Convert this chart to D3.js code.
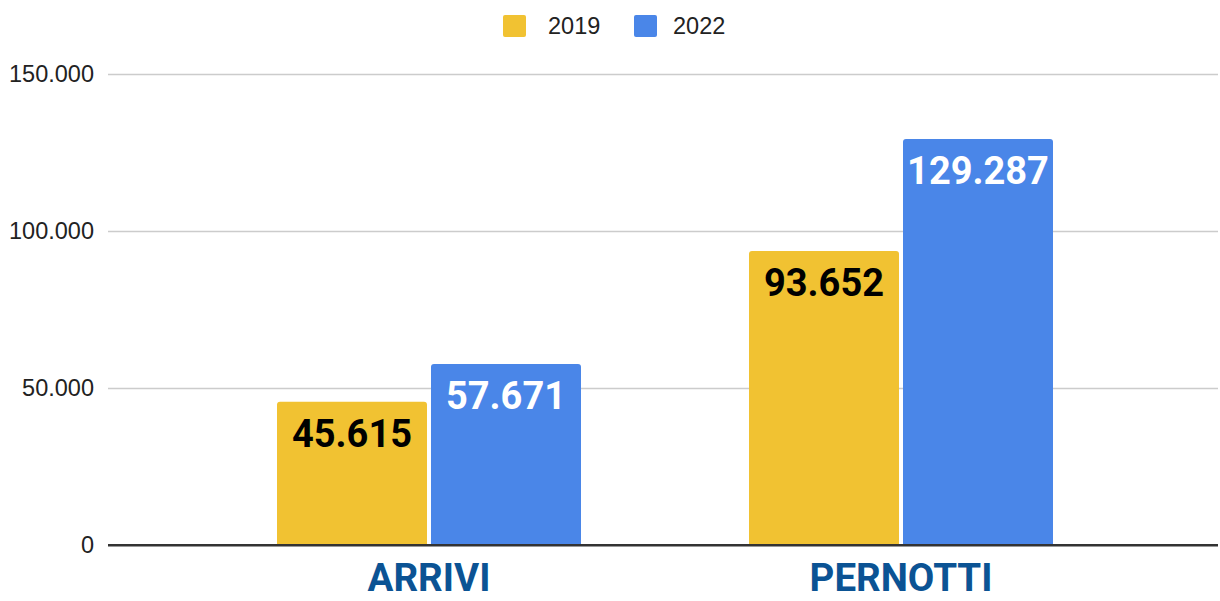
<!DOCTYPE html>
<html lang="it">
<head>
    <meta charset="UTF-8">
    <title>Arrivi e pernotti 2019 / 2022</title>
    <script src="https://d3js.org/d3.v7.min.js"></script>
    <style>
        body { margin: 0; background: #fff; }
        .tick-label { font-family: "Liberation Sans", Arial, sans-serif; font-size: 23.5px; fill: #222; }
        .legend-label { font-family: "Liberation Sans", Arial, sans-serif; font-size: 23.5px; fill: #222; }
        .value-label { font-family: Roboto, sans-serif; font-weight: 700; font-size: 38px; }
        .cat-label { font-family: Roboto, sans-serif; font-weight: 700; font-size: 38.5px; fill: #0b5394; }
    </style>
</head>
<body>
    <svg id="chart" width="1220" height="601"></svg>

    <script>
        const categories = ["ARRIVI", "PERNOTTI"];
        const series = ["2019", "2022"];
        const values2019 = [45615, 93652];
        const values2022 = [57671, 129287];
        const yTicks = [0, 50000, 100000, 150000];
        const colors = ["#f1c232", "#4a86e8"];
        const labelColors = ["#000", "#fff"];

        const plotLeft = 108, plotRight = 1218;
        const plotTop = 74, plotBottom = 545;

        const svg = d3.select("#chart");
        const fmt = d3.formatLocale({ decimal: ",", thousands: ".", grouping: [3], currency: ["€", ""] }).format(",d");

        const y = d3.scaleLinear().domain([0, 150000]).range([plotBottom, plotTop]);

        // category bands (bars are centred a bit right of the plot middle, as in the original)
        const x0 = d3.scaleBand()
            .domain(categories)
            .range([193, 1137]);

        const x1 = d3.scaleBand()
            .domain(series)
            .range([84, 388])
            .paddingInner(0.026);

        // gridlines + y labels
        const yAxis = svg.append("g")
            .attr("transform", `translate(${plotLeft},0)`)
            .call(d3.axisLeft(y).tickValues(yTicks).tickSize(-(plotRight - plotLeft)).tickPadding(14).tickFormat(fmt));
        yAxis.select(".domain").remove();
        yAxis.selectAll(".tick line").attr("stroke", d => d === 0 ? "#333" : "#ccc").attr("stroke-width", d => d === 0 ? 2 : 1.3);
        yAxis.selectAll(".tick text").attr("class", "tick-label").attr("font-family", null).attr("font-size", null).attr("fill", null);

        const rows = categories.map((c, i) => ({ cat: c, vals: [values2019[i], values2022[i]] }));

        const groups = svg.append("g").selectAll("g")
            .data(rows)
            .enter().append("g")
            .attr("transform", d => `translate(${x0(d.cat)},0)`);

        const bars = groups.selectAll("g")
            .data(d => d.vals.map((v, j) => ({ key: series[j], value: v, j })))
            .enter().append("g");

        bars.append("path")
            .attr("fill", d => colors[d.j])
            .attr("d", d => {
                const x = x1(d.key), w = x1.bandwidth(), top = y(d.value), r = 3;
                const b = plotBottom - 1;
                return `M${x},${b}V${top + r}Q${x},${top} ${x + r},${top}H${x + w - r}Q${x + w},${top} ${x + w},${top + r}V${b}Z`;
            });

        bars.append("text")
            .attr("class", "value-label")
            .attr("x", d => x1(d.key) + x1.bandwidth() / 2)
            .attr("y", d => y(d.value) + 45)
            .attr("text-anchor", "middle")
            .attr("fill", d => labelColors[d.j])
            .text(d => fmt(d.value));

        // redraw baseline on top
        svg.append("line")
            .attr("x1", plotLeft).attr("x2", plotRight)
            .attr("y1", y(0)).attr("y2", y(0))
            .attr("stroke", "#333").attr("stroke-width", 2);

        // category labels
        svg.append("g").selectAll("text")
            .data(categories)
            .enter().append("text")
            .attr("class", "cat-label")
            .attr("x", d => x0(d) + x0.bandwidth() / 2)
            .attr("y", 591)
            .attr("text-anchor", "middle")
            .text(d => d);

        // legend
        const legendX = [503, 634];
        const legendTextX = [548, 673];
        const legend = svg.append("g").selectAll("g")
            .data(series)
            .enter().append("g");
        legend.append("rect")
            .attr("x", (d, i) => legendX[i]).attr("y", 15)
            .attr("width", 23).attr("height", 22).attr("rx", 2)
            .attr("fill", (d, i) => colors[i]);
        legend.append("text")
            .attr("class", "legend-label")
            .attr("x", (d, i) => legendTextX[i]).attr("y", 34)
            .text(d => d);
    </script>
</body>
</html>
